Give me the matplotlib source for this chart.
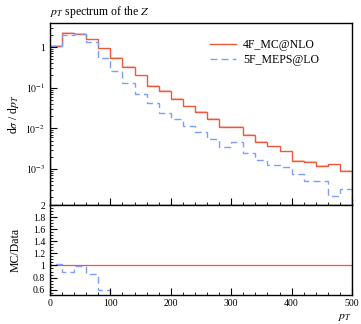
import numpy as np
import matplotlib
matplotlib.use("Agg")
import matplotlib.pyplot as plt
from matplotlib.ticker import LogLocator, MultipleLocator, FixedLocator, NullFormatter

plt.rcParams['font.family'] = ['Liberation Serif', 'DejaVu Serif']
plt.rcParams['mathtext.fontset'] = 'stix'

edges = np.arange(0, 520, 20)
mcnlo = [1.06, 2.26, 2.13, 1.55, 0.93, 0.55, 0.33, 0.20, 0.110, 0.082,
         0.053, 0.035, 0.025, 0.0174, 0.0108, 0.0108, 0.0069, 0.0046, 0.0036, 0.0027,
         0.0016, 0.00149, 0.0012, 0.00129, 0.00090]
meps = [1.09, 2.03, 2.11, 1.33, 0.55, 0.26, 0.127, 0.071, 0.041, 0.0244,
        0.0170, 0.0112, 0.0081, 0.0056, 0.0035, 0.0045, 0.0025, 0.0017, 0.00122, 0.00112,
        0.00077, 0.00050, 0.00050, 0.00022, 0.00032]
labels = ['4F_MC@NLO', '5F_MEPS@LO']

red = '#f0583c'
blue = '#7f9dff'

mcnlo = np.array(mcnlo)
meps = np.array(meps)

fig = plt.figure(figsize=(3.61, 3.24), dpi=100)
L, R = 50/361, 352/361
ax = fig.add_axes([L, 1-205/324, R-L, (205-23)/324])
axr = fig.add_axes([L, 1-294.5/324, R-L, (294.5-205)/324], sharex=ax)

ax.stairs(mcnlo*1.04, edges, baseline=mcnlo*0.96, fill=True, color=red, alpha=0.3, lw=0)
ax.stairs(mcnlo, edges, color=red, lw=1.0, label=labels[0])
ax.stairs(meps, edges, color=blue, lw=1.0, ls=(0, (5, 3)), label=labels[1])
ax.set_yscale('log')
ax.set_xlim(0, 500)
ax.set_ylim(1.3e-4, 3.9)
ax.yaxis.set_major_locator(FixedLocator([1e-3, 1e-2, 1e-1, 1]))
ax.set_yticklabels([r'$10^{-3}$', r'$10^{-2}$', r'$10^{-1}$', '1'])
ax.yaxis.set_minor_locator(LogLocator(base=10, subs=np.arange(2, 10)))
ax.yaxis.set_minor_formatter(NullFormatter())
ax.xaxis.set_major_locator(MultipleLocator(100))
ax.xaxis.set_minor_locator(MultipleLocator(20))
ax.tick_params(axis='x', labelbottom=False)
ax.set_ylabel(r'd$\sigma$ / d$p_T$', fontsize=8.5)
ax.set_title(r'$p_T$ spectrum of the $Z$', fontsize=8.5, loc='left', pad=6)
ax.legend(loc='upper left', bbox_to_anchor=(0.51, 0.945), frameon=False, fontsize=8.5,
          borderpad=0, handlelength=2.2, handletextpad=0.6, labelspacing=0.25)

ratio_red = mcnlo / mcnlo
ratio_blue = meps / mcnlo
axr.stairs(ratio_red, edges, color=red, lw=0.9)
axr.stairs(ratio_blue, edges, color=blue, lw=1.0, ls=(0, (5, 3)))
axr.set_ylim(0.52, 2.0)
axr.yaxis.set_minor_locator(MultipleLocator(0.05))
axr.set_yticks([0.6, 0.8, 1.0, 1.2, 1.4, 1.6, 1.8, 2.0])
axr.set_yticklabels(['0.6', '0.8', '1', '1.2', '1.4', '1.6', '1.8', '2'])
axr.set_ylabel('MC/Data', fontsize=8.5)
axr.set_xlabel(r'$p_T$', fontsize=8.5, loc='right', labelpad=2)

for a in (ax, axr):
    a.tick_params(which='both', direction='in', top=False, right=False, labelsize=7)
    a.tick_params(which='major', length=5, width=0.8)
    a.tick_params(which='minor', length=2.5, width=0.6)
    for s in a.spines.values():
        s.set_linewidth(1.0)
ax.yaxis.set_label_coords(-0.095, 0.5)
axr.yaxis.set_label_coords(-0.095, 0.5)

fig.savefig('out.png', dpi=100)
